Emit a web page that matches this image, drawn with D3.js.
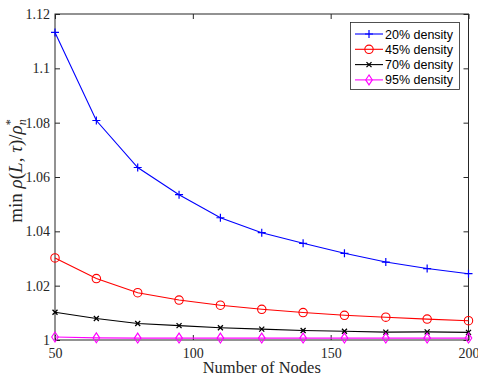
<!DOCTYPE html>
<html>
<head>
<meta charset="utf-8">
<script src="https://cdn.jsdelivr.net/npm/d3@7"></script>
<style>
body { margin: 0; background: #fff; }
text { font-family: "Liberation Serif", "DejaVu Serif", serif; }
</style>
</head>
<body>
<svg id="chart"></svg>
<script>
// data
var nodesCount = [50, 65, 80, 95, 110, 125, 140, 155, 170, 185, 200];
var d20 = [1.1132, 1.0808, 1.0635, 1.0535, 1.0450, 1.0395, 1.0356, 1.0319, 1.0287, 1.0263, 1.0244];
var d45 = [1.0302, 1.0226, 1.0174, 1.0147, 1.0128, 1.0113, 1.0101, 1.0091, 1.0084, 1.0077, 1.0071];
var d70 = [1.0102, 1.0079, 1.0061, 1.0053, 1.0045, 1.0040, 1.0035, 1.0032, 1.0029, 1.0030, 1.0028];
var d95 = [1.0011, 1.0008, 1.0007, 1.0007, 1.0007, 1.0007, 1.0007, 1.0007, 1.0007, 1.0007, 1.0007];
var seriesNames = ["20% density", "45% density", "70% density", "95% density"];
var xTicks = [50, 100, 150, 200];
var yTicks = [1, 1.02, 1.04, 1.06, 1.08, 1.1, 1.12];

var width = 478, height = 379;
var plotLeft = 55, plotRight = 468.5, plotTop = 14, plotBottom = 340;

var svg = d3.select("#chart").attr("width", width).attr("height", height);

var x = d3.scaleLinear().domain([50, 200]).range([plotLeft, plotRight]);
var y = d3.scaleLinear().domain([1, 1.12]).range([plotBottom, plotTop]);

var axisColor = "#262626";

// box
svg.append("rect")
	.attr("x", plotLeft).attr("y", plotTop)
	.attr("width", plotRight - plotLeft).attr("height", plotBottom - plotTop)
	.attr("fill", "none").attr("stroke", axisColor).attr("stroke-width", 1);

function fmt(d) { return d === 1 ? "1" : String(d); }

// axes (ticks inward)
var gx = svg.append("g").attr("transform", "translate(0," + plotBottom + ")")
	.call(d3.axisBottom(x).tickValues(xTicks).tickSize(-5).tickPadding(8).tickFormat(d3.format("d")));
var gxTop = svg.append("g").attr("transform", "translate(0," + plotTop + ")")
	.call(d3.axisTop(x).tickValues(xTicks).tickSize(-5).tickFormat(""));
var gy = svg.append("g").attr("transform", "translate(" + plotLeft + ",0)")
	.call(d3.axisLeft(y).tickValues(yTicks).tickSize(-5).tickPadding(5).tickFormat(fmt));
var gyRight = svg.append("g").attr("transform", "translate(" + plotRight + ",0)")
	.call(d3.axisRight(y).tickValues(yTicks).tickSize(-5).tickFormat(""));

[gx, gxTop, gy, gyRight].forEach(function (g) {
	g.select(".domain").remove();
	g.selectAll(".tick line").attr("stroke", axisColor);
	g.selectAll(".tick text")
		.attr("fill", axisColor)
		.style("font-family", "'Liberation Serif', serif")
		.style("font-size", "14px");
});

// labels
svg.append("text")
	.attr("x", (plotLeft + plotRight) / 2).attr("y", 373)
	.attr("text-anchor", "middle")
	.attr("fill", axisColor)
	.style("font-size", "16.5px")
	.text("Number of Nodes");

var yl = svg.append("text")
	.attr("transform", "translate(22,171) rotate(-90)")
	.attr("text-anchor", "middle")
	.attr("fill", axisColor)
	.style("font-size", "19px");
yl.append("tspan").text("min ");
yl.append("tspan").style("font-style", "italic").text("ρ");
yl.append("tspan").text("(");
yl.append("tspan").style("font-style", "italic").text("L");
yl.append("tspan").text(", ");
yl.append("tspan").style("font-style", "italic").text("τ");
yl.append("tspan").text(")/");
yl.append("tspan").style("font-style", "italic").text("ρ");
yl.append("tspan").attr("dy", -8).style("font-size", "12px").text("*");
yl.append("tspan").attr("dy", 12).attr("dx", -6).style("font-size", "12px").style("font-style", "italic").text("n");

var series = [
	{ name: seriesNames[0], values: d20, color: "#0000ff", marker: "plus" },
	{ name: seriesNames[1], values: d45, color: "#ff0000", marker: "circle" },
	{ name: seriesNames[2], values: d70, color: "#000000", marker: "x" },
	{ name: seriesNames[3], values: d95, color: "#ff00ff", marker: "diamond" }
];

function drawMarker(g, type, color) {
	if (type === "plus") {
		g.append("path").attr("d", "M-4,0H4M0,-4V4").attr("stroke", color).attr("stroke-width", 1.2).attr("fill", "none");
	} else if (type === "circle") {
		g.append("circle").attr("r", 4.2).attr("stroke", color).attr("stroke-width", 1.1).attr("fill", "none");
	} else if (type === "x") {
		g.append("path").attr("d", "M-2.5,-2.5L2.5,2.5M-2.5,2.5L2.5,-2.5").attr("stroke", color).attr("stroke-width", 1.3).attr("fill", "none");
	} else if (type === "diamond") {
		g.append("path").attr("d", "M0,-5L3.3,0L0,5L-3.3,0Z").attr("stroke", color).attr("stroke-width", 1.1).attr("fill", "none");
	}
}

var line = d3.line()
	.x(function (d, i) { return x(nodesCount[i]); })
	.y(function (d) { return y(d); });

series.forEach(function (s) {
	svg.append("path")
		.datum(s.values)
		.attr("d", line)
		.attr("fill", "none")
		.attr("stroke", s.color)
		.attr("stroke-width", 1.1);
	s.values.forEach(function (v, i) {
		var g = svg.append("g").attr("transform", "translate(" + x(nodesCount[i]) + "," + y(v) + ")");
		drawMarker(g, s.marker, s.color);
	});
});

// legend
var lg = svg.append("g");
lg.append("rect")
	.attr("x", 350.5).attr("y", 22.5)
	.attr("width", 109).attr("height", 67)
	.attr("fill", "#fff").attr("stroke", axisColor).attr("stroke-width", 0.8);
series.forEach(function (s, i) {
	var yy = 34 + i * 15.3;
	lg.append("line")
		.attr("x1", 355).attr("x2", 383)
		.attr("y1", yy).attr("y2", yy)
		.attr("stroke", s.color).attr("stroke-width", 1.1);
	var g = lg.append("g").attr("transform", "translate(369," + yy + ")");
	drawMarker(g, s.marker, s.color);
	lg.append("text")
		.attr("x", 385).attr("y", yy + 4.5)
		.attr("fill", "#000")
		.style("font-family", "'Liberation Sans', Arial, sans-serif")
		.style("font-size", "12.5px")
		.text(s.name);
});
</script>
</body>
</html>
